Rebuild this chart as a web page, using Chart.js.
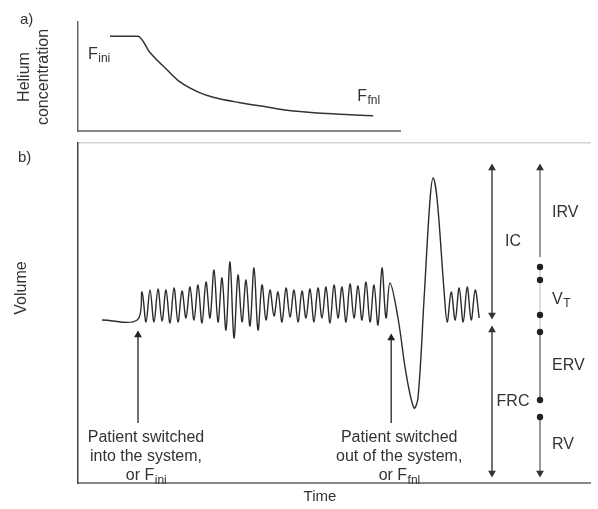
<!DOCTYPE html>
<html>
<head>
<meta charset="utf-8">
<script src="https://cdn.jsdelivr.net/npm/chart.js@4.4.1/dist/chart.umd.min.js"></script>
<style>
html, body { margin: 0; padding: 0; background: #fff; }
#wrap { position: relative; width: 598px; height: 509px; }
#wrap canvas { position: absolute; left: 0; top: 0; }
</style>
</head>
<body>
<div id="wrap">
  <canvas id="volume" width="598" height="509"></canvas>
  <canvas id="helium" width="598" height="509"></canvas>
</div>
<script>
// a) helium concentration (arbitrary units) against time (s)
var heTime = [8, 15, 18, 22.3, 25.5, 30.5, 33.8, 40.5, 47.3, 52.3, 59.8, 68, 73.8];
var heConc = [8.7, 8.7, 7.2, 5.6, 4.5, 3.5, 3.1, 2.6, 2.2, 1.9, 1.65, 1.5, 1.4];

// b) spirometer volume trace (arbitrary units) against time (s)
var volTime = [6, 14.8, 16, 17, 18, 19, 20, 21, 22, 23, 24, 25, 26, 27, 28, 29, 30,
  31, 32, 33, 34, 35, 36, 37, 38, 39, 40, 41, 42, 43, 44, 45, 46, 47, 48, 49, 50,
  51, 52, 53, 54, 55, 56, 57, 58, 59, 60, 61, 62, 63, 64, 65, 66, 67, 68, 69, 70,
  71, 72, 73, 74, 75, 76, 77, 78, 80, 82, 84, 85, 86.5, 88, 88.8, 89.8, 91.5, 92.3,
  93.3, 94.3, 95.3, 96.3, 97.3, 98.3, 99.3, 100.3];
var volValue = [16.3, 16.3, 19.1, 16.1, 19.3, 16.1, 19.4, 16.2, 19.3, 16.0, 19.5, 16.1, 19.2, 16.5, 19.6, 16.3, 19.8,
  16.0, 20.1, 16.5, 21.3, 16.1, 20.5, 15.3, 22.1, 14.5, 20.8, 16.1, 20.3, 15.7, 21.5, 15.3, 19.8, 16.3, 19.3, 16.7, 19.1,
  16.1, 19.5, 16.6, 19.3, 16.1, 19.2, 16.5, 19.4, 16.1, 19.5, 16.5, 19.6, 16.0, 19.8, 16.5, 19.6, 16.1, 19.9, 16.5, 19.7,
  16.3, 20.1, 16.1, 19.8, 15.8, 21.5, 16.5, 20.0, 16.5, 11.0, 7.5, 8.5, 18.3, 28.3, 30.5, 28.3, 19.3, 16.1,
  19.1, 16.3, 19.5, 16.1, 19.6, 16.3, 19.3, 16.5];

// lung capacities (left column) and volumes (right column)
var capLabels = ['IC', 'FRC'];
var capTop = [31.5, 15.3];
var capBottom = [16.8, 1.0];
var capTime = 103.5;

var subLabels = ['IRV', 'V_T', 'ERV', 'RV'];
var subTop = [31.5, 21.6, 15.1, 6.6];
var subBottom = [22.6, 15.1, 8.3, 1.0];
var subDots = [21.6, 20.3, 16.8, 15.1, 8.3, 6.6];
var subTime = 115.5;

// patient switched in / out
var switchTime = [15, 78.3];
var switchFrom = [6.0, 6.0];
var switchTo = [14.8, 14.5];
var switchText = [
  ['Patient switched', 'into the system,', 'or F_ini'],
  ['Patient switched', 'out of the system,', 'or F_fnl']
];

var FONT = '"Liberation Sans", Arial, sans-serif';
var INK = '#333333';

function pts(xs, ys) {
  return xs.map(function (x, i) { return { x: x, y: ys[i] }; });
}
function seg(t, a, b) {
  return [{ x: t, y: a }, { x: t, y: b }];
}

// text with an optional subscript after "_"
function subText(ctx, str, x, y, size, align) {
  var parts = str.split('_');
  ctx.font = size + 'px ' + FONT;
  var w1 = ctx.measureText(parts[0]).width;
  var w2 = 0;
  if (parts[1]) {
    ctx.font = Math.round(size * 0.72) + 'px ' + FONT;
    w2 = ctx.measureText(parts[1]).width;
  }
  var x0 = x;
  if (align === 'center') x0 = x - (w1 + w2) / 2;
  if (align === 'right') x0 = x - (w1 + w2);
  ctx.textAlign = 'left';
  ctx.textBaseline = 'middle';
  ctx.fillStyle = INK;
  ctx.font = size + 'px ' + FONT;
  ctx.fillText(parts[0], x0, y);
  if (parts[1]) {
    ctx.font = Math.round(size * 0.72) + 'px ' + FONT;
    ctx.fillText(parts[1], x0 + w1 + 0.5, y + size * 0.28);
  }
}

function vText(ctx, str, x, y, size) {
  ctx.save();
  ctx.translate(x, y);
  ctx.rotate(-Math.PI / 2);
  ctx.font = size + 'px ' + FONT;
  ctx.fillStyle = INK;
  ctx.textAlign = 'center';
  ctx.textBaseline = 'middle';
  ctx.fillText(str, 0, 0);
  ctx.restore();
}

var heliumText = {
  id: 'heliumText',
  afterDraw: function (chart) {
    var ctx = chart.ctx, x = chart.scales.x, y = chart.scales.y;
    ctx.save();
    subText(ctx, 'F_ini', x.getPixelForValue(2.5), y.getPixelForValue(7.0), 16, 'left');
    subText(ctx, 'F_fnl', x.getPixelForValue(69.8), y.getPixelForValue(3.2), 16, 'left');
    subText(ctx, 'a)', 20, 20, 15, 'left');
    vText(ctx, 'Helium', 25, 77, 16);
    vText(ctx, 'concentration', 44, 77, 16);
    ctx.restore();
  }
};

var volumeText = {
  id: 'volumeText',
  afterDraw: function (chart) {
    var ctx = chart.ctx, x = chart.scales.x, y = chart.scales.y;
    ctx.save();
    capLabels.forEach(function (lab, i) {
      subText(ctx, lab, x.getPixelForValue(capTime) + 21, y.getPixelForValue((capTop[i] + capBottom[i]) / 2), 16, 'center');
    });
    subLabels.forEach(function (lab, i) {
      subText(ctx, lab, x.getPixelForValue(subTime) + 12, y.getPixelForValue((subTop[i] + subBottom[i]) / 2), 16, 'left');
    });
    switchText.forEach(function (lines, i) {
      var cx = x.getPixelForValue(switchTime[i]) + 8;
      lines.forEach(function (s, j) {
        subText(ctx, s, cx, y.getPixelForValue(switchFrom[i]) + 15 + j * 19, 16, 'center');
      });
    });
    subText(ctx, 'b)', 18, 158, 15, 'left');
    vText(ctx, 'Volume', 22, 288, 16);
    subText(ctx, 'Time', (chart.chartArea.left + chart.chartArea.right) / 2 - 14, chart.chartArea.bottom + 14, 15, 'center');
    ctx.restore();
  }
};

var noTicks = { display: false };
var noGrid = { display: false, drawTicks: false };

new Chart(document.getElementById('helium'), {
  type: 'line',
  data: {
    datasets: [{
      data: pts(heTime, heConc),
      borderColor: '#333',
      borderWidth: 1.5,
      pointRadius: 0,
      cubicInterpolationMode: 'monotone',
      fill: false
    }]
  },
  options: {
    responsive: false,
    animation: false,
    layout: { padding: { left: 78, right: 198, top: 22, bottom: 378 } },
    plugins: { legend: { display: false }, tooltip: { enabled: false } },
    scales: {
      x: { type: 'linear', min: 0, max: 80.5, ticks: noTicks, grid: noGrid, border: { color: '#888', width: 2 } },
      y: { type: 'linear', min: 0, max: 10, ticks: noTicks, grid: noGrid, border: { color: '#666', width: 1.5 } }
    }
  },
  plugins: [heliumText]
});

var volSets = [{
  data: pts(volTime, volValue),
  borderColor: '#2b2b2b',
  borderWidth: 1.4,
  pointRadius: 0,
  tension: 0.35,
  fill: false
}];

capLabels.forEach(function (lab, i) {
  volSets.push({
    data: seg(capTime, capTop[i], capBottom[i]),
    borderColor: '#444',
    borderWidth: 1.5,
    pointStyle: 'triangle',
    pointRotation: [0, 180],
    pointRadius: 4.5,
    pointBackgroundColor: '#333',
    pointBorderWidth: 0
  });
});

subLabels.forEach(function (lab, i) {
  volSets.push({
    data: seg(subTime, subTop[i], subBottom[i]),
    borderColor: i === 1 ? '#c8c8c8' : '#555',
    borderWidth: 1.2,
    pointStyle: 'triangle',
    pointRotation: [0, 180],
    pointRadius: [i === 0 ? 4.5 : 0, i === 3 ? 4.5 : 0],
    pointBackgroundColor: '#333',
    pointBorderWidth: 0
  });
});

volSets.push({
  data: subDots.map(function (v) { return { x: subTime, y: v }; }),
  showLine: false,
  order: -1,
  pointStyle: 'circle',
  pointRadius: 3.2,
  pointBackgroundColor: '#222',
  pointBorderColor: '#222',
  pointBorderWidth: 0
});

switchTime.forEach(function (t, i) {
  volSets.push({
    data: seg(t, switchFrom[i], switchTo[i]),
    borderColor: '#333',
    borderWidth: 1.4,
    pointStyle: 'triangle',
    pointRotation: 0,
    pointRadius: [0, 4.5],
    pointBackgroundColor: '#222',
    pointBorderWidth: 0
  });
});

new Chart(document.getElementById('volume'), {
  type: 'line',
  data: { datasets: volSets },
  options: {
    responsive: false,
    animation: false,
    layout: { padding: { left: 78, right: 8, top: 143, bottom: 26 } },
    plugins: { legend: { display: false }, tooltip: { enabled: false } },
    scales: {
      x: { type: 'linear', min: 0, max: 128, ticks: noTicks, grid: noGrid, border: { color: '#888', width: 2 } },
      x2: { type: 'linear', position: 'top', min: 0, max: 128, ticks: noTicks, grid: noGrid, border: { color: '#d4d4d4', width: 1.5 } },
      y: { type: 'linear', min: 0, max: 34, ticks: noTicks, grid: noGrid, border: { color: '#444', width: 1.5 } }
    }
  },
  plugins: [volumeText]
});
</script>
</body>
</html>
